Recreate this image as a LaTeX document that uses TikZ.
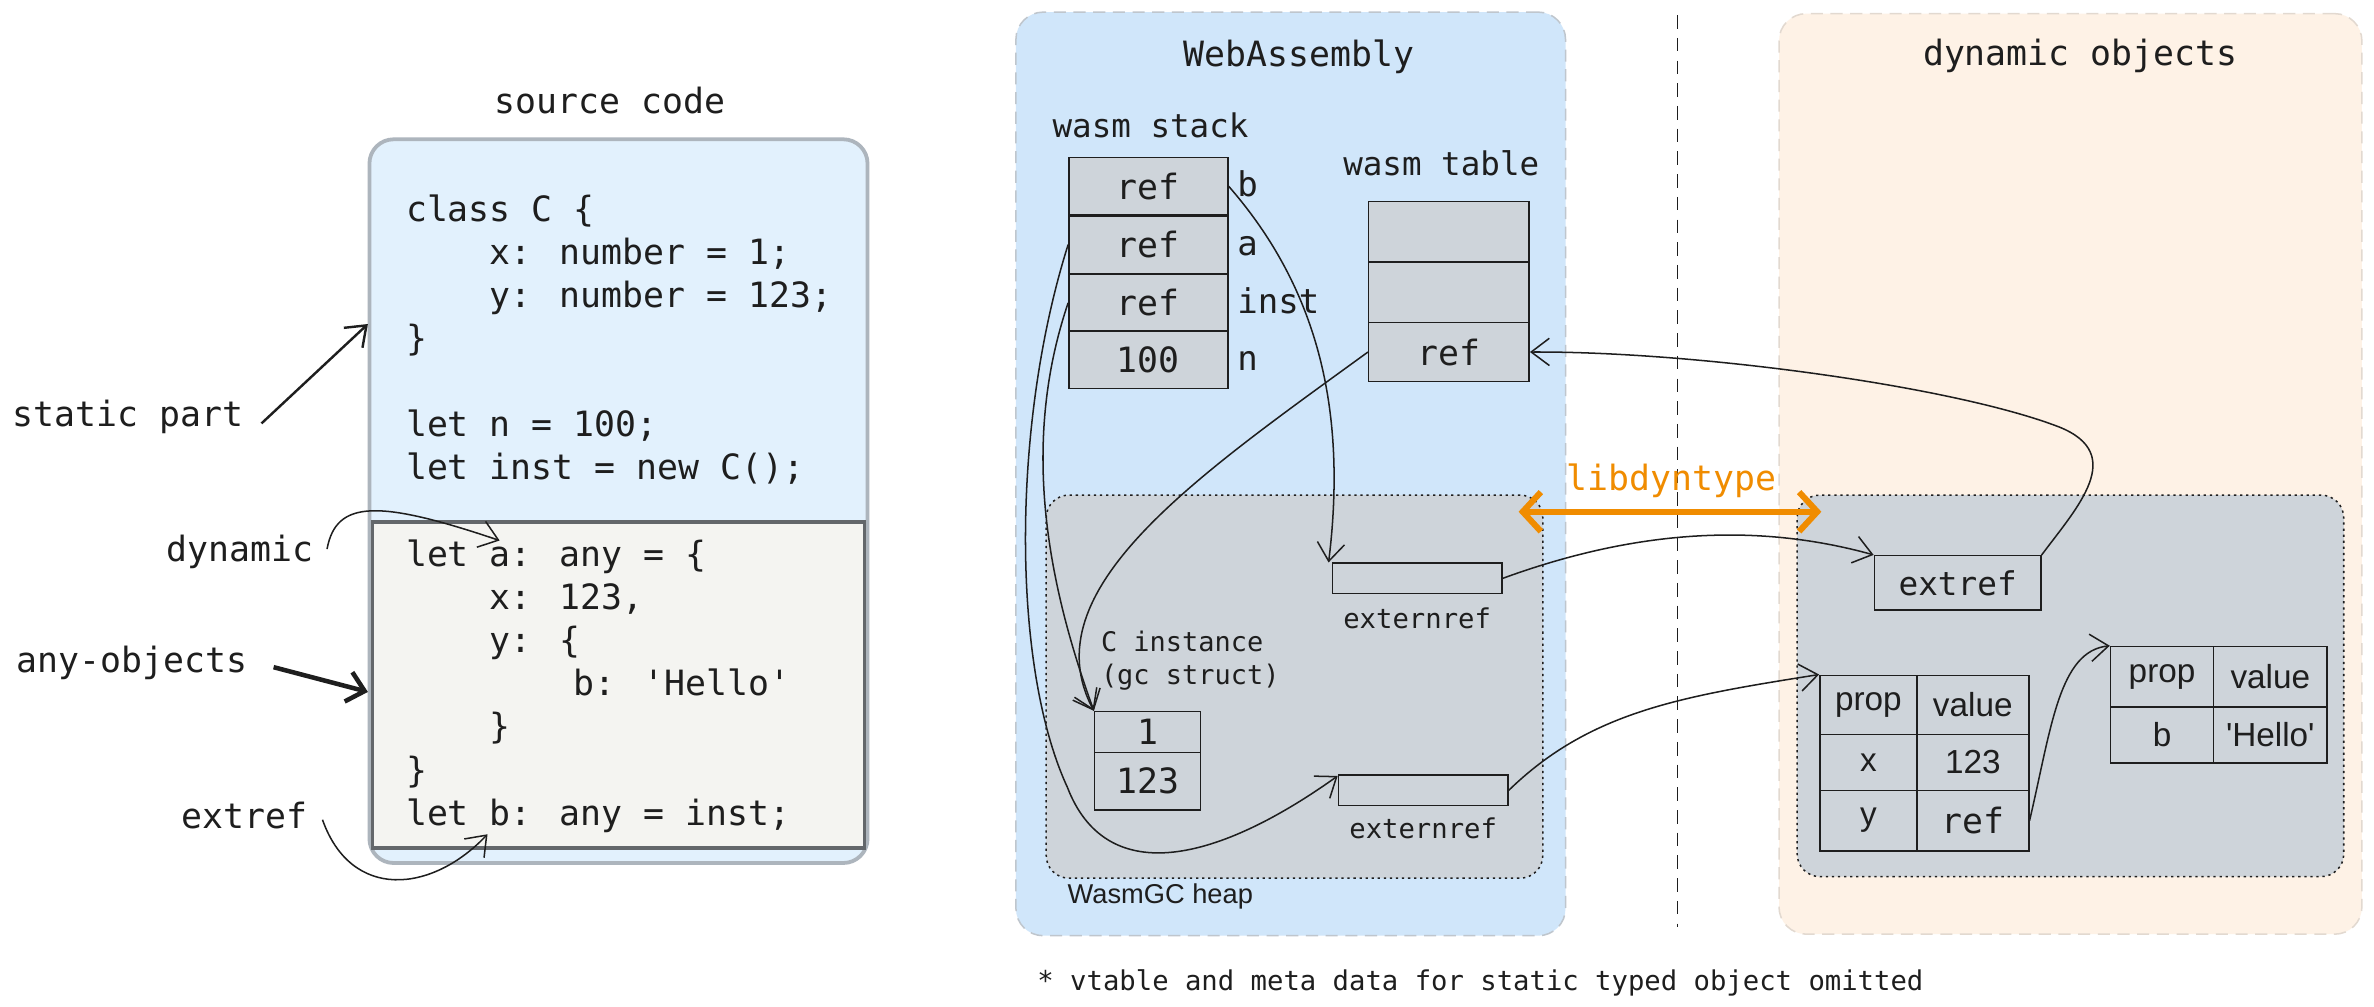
\documentclass[tikz,border=0pt]{standalone}
\usepackage{fontspec}
\usetikzlibrary{arrows.meta}
\newfontfamily\monof{DejaVu Sans Mono}
\newfontfamily\arialf{Liberation Sans}
\definecolor{ink}{HTML}{1E1E1E}
\definecolor{srcfill}{HTML}{E2F1FD}
\definecolor{srcline}{HTML}{ADB5BD}
\definecolor{dynfill}{HTML}{F4F4F1}
\definecolor{dynline}{HTML}{63676B}
\definecolor{wasmfill}{HTML}{D0E6FA}
\definecolor{wasmline}{HTML}{BFC6CD}
\definecolor{heapfill}{HTML}{CED4DA}
\definecolor{objfill}{HTML}{FEF2E6}
\definecolor{objline}{HTML}{E2D9D0}
\definecolor{orng}{HTML}{F08C00}
\tikzset{
  mono/.style={font={\monof\fontsize{#1}{#1}\selectfont}, text=ink, inner sep=0pt},
  mono/.default=23,
  sans/.style={font={\arialf\fontsize{#1}{#1}\selectfont}, text=ink, inner sep=0pt},
  sans/.default=22,
  region/.style={inner sep=0pt, anchor=center},
  code/.style={mono=23, anchor=base west},
  cellbox/.style={draw=ink, line width=1pt, fill=heapfill, inner sep=0pt, anchor=center},
  arr/.style={draw=ink, line width=1pt, -{Straight Barb[length=12pt,width=18pt]}},
  bigarr/.style={draw=ink, line width=1.6pt, -{Straight Barb[length=12pt,width=18pt]}},
  heavyarr/.style={draw=ink, line width=3pt, -{Straight Barb[length=11pt,width=20pt]}},
}
\begin{document}
\begin{tikzpicture}[x=1pt,y=-1pt]
\fill[white] (0,0) rectangle (1568,665);
\useasboundingbox (0,0) rectangle (1568,665);

% ---------- source code ----------
\node[mono, anchor=base] (srctitle) at (403,75) {source code};
\node[region, fill=srcfill, draw=srcline, line width=2.5pt, rounded corners=16pt,
      minimum width=329pt, minimum height=478pt] (src) at (408.5,331) {};
\node[region, fill=dynfill, draw=dynline, line width=2.5pt,
      minimum width=325pt, minimum height=215pt] (srcdyn) at (408.5,452.5) {};

\node[code] (c01) at (268,146) {class C \{};
\node[code] (c02) at (323.4,174.5) {x: number = 1;};
\node[code] (c03) at (323.4,203) {y: number = 123;};
\node[code] (c04) at (268,231.5) {\}};
\node[code] (c05) at (268,288.5) {let n = 100;};
\node[code] (c06) at (268,317) {let inst = new C();};
\node[code] (c07) at (268,374) {let a: any = \{};
\node[code] (c08) at (323.4,402.5) {x: 123,};
\node[code] (c09) at (323.4,431) {y: \{};
\node[code] (c10) at (378.8,459.5) {b: 'Hello'};
\node[code] (c11) at (323.4,488) {\}};
\node[code] (c12) at (268,516.5) {\}};
\node[code] (c13) at (268,545) {let b: any = inst;};

% left labels
\node[mono, anchor=base west] (lstatic) at (8,282) {static part};
\node[mono, anchor=base east] (ldyn) at (207,371) {dynamic};
\node[mono, anchor=base west] (lany) at (11,444) {any-objects};
\node[mono, anchor=base east] (lext) at (203,547) {extref};

\coordinate (tipstatic) at (243,214);
\coordinate (tipdyn) at (330,357);
\coordinate (tipany) at (243,457);
\coordinate (tipext) at (322,551);

\draw[bigarr] ([xshift=12pt,yshift=-4pt]lstatic.east) -- (tipstatic);
\draw[arr] ([xshift=9pt,yshift=2pt]ldyn.east) .. controls (222,330) and (250,330) .. (tipdyn);
\draw[heavyarr] ([xshift=17pt,yshift=-3pt]lany.east) -- (tipany);
\draw[arr] ([xshift=10pt,yshift=-3pt]lext.east) .. controls (232,595) and (285,590) .. (tipext);

% ---------- WebAssembly ----------
\node[region, fill=wasmfill, draw=wasmline, line width=1pt, dash pattern=on 8pt off 5pt,
      rounded corners=18pt, minimum width=363pt, minimum height=610pt] (wasm) at (852.5,313) {};
\node[mono, anchor=base] (wasmtitle) at (858,44) {WebAssembly};

\node[region, fill=heapfill, draw=ink, line width=1pt, dash pattern=on 1.5pt off 2.5pt,
      rounded corners=15pt, minimum width=328pt, minimum height=253pt] (heap) at (855,453.5) {};
\node[sans=18, anchor=base west] (heaplabel) at (705,597) {WasmGC heap};

\node[mono=21.5, anchor=base west] (stacktitle) at (695,91) {wasm stack};
\node[cellbox, mono=23, minimum width=105pt, minimum height=38pt] (s1) at (758.5,123) {ref};
\node[cellbox, mono=23, minimum width=105pt, minimum height=38pt] (s2) at (758.5,161.5) {ref};
\node[cellbox, mono=23, minimum width=105pt, minimum height=38pt] (s3) at (758.5,200) {ref};
\node[cellbox, mono=23, minimum width=105pt, minimum height=38pt] (s4) at (758.5,237.5) {100};
\node[mono=22.5, anchor=base west] (lb) at (817,130) {b};
\node[mono=22.5, anchor=base west] (la) at (817,168.5) {a};
\node[mono=22.5, anchor=base west] (linst) at (817,207) {inst};
\node[mono=22.5, anchor=base west] (ln) at (817,245) {n};

\node[mono=21.5, anchor=base west] (tabletitle) at (887,116) {wasm table};
\node[cellbox, minimum width=106pt, minimum height=40pt] (t1) at (957,153) {};
\node[cellbox, minimum width=106pt, minimum height=40pt] (t2) at (957,193) {};
\node[cellbox, mono=23, minimum width=106pt, minimum height=39pt] (t3) at (957,232.5) {ref};

\node[mono=17.8, anchor=base west] (cinst1) at (727,430) {C instance};
\node[mono=17.8, anchor=base west] (cinst2) at (727,452) {(gc struct)};
\node[cellbox, mono=23, minimum width=70pt, minimum height=27pt] (c1) at (758,483.5) {1};
\node[cellbox, mono=23, minimum width=70pt, minimum height=38pt] (c2) at (758,516) {123};

\node[cellbox, minimum width=112pt, minimum height=20pt] (ext1) at (936,382) {};
\node[mono=18, anchor=base] (ext1l) at (936,415) {externref};
\node[cellbox, minimum width=112pt, minimum height=20pt] (ext2) at (940,522) {};
\node[mono=18, anchor=base] (ext2l) at (940,554) {externref};

% separator
\coordinate (septop) at (1108,10);
\coordinate (sepbot) at (1108,612);
\draw[ink, line width=1pt, dash pattern=on 9pt off 6pt] (septop) -- (sepbot);

% ---------- dynamic objects ----------
\node[region, fill=objfill, draw=objline, line width=1pt, dash pattern=on 8pt off 5pt,
      rounded corners=18pt, minimum width=385pt, minimum height=608pt] (obj) at (1367.5,313) {};
\node[mono, anchor=base] (objtitle) at (1374,43) {dynamic objects};
\node[region, fill=heapfill, draw=ink, line width=1pt, dash pattern=on 1.5pt off 2.5pt,
      rounded corners=15pt, minimum width=361pt, minimum height=252pt] (objheap) at (1367.5,453) {};

\node[cellbox, mono=21.6, minimum width=110pt, minimum height=36pt] (dx) at (1293,385) {extref};

\node[cellbox, sans, minimum width=64pt, minimum height=39pt] (p11) at (1234,465.5) {prop};
\node[cellbox, sans, minimum width=74pt, minimum height=39pt] (p12) at (1303,465.5) {value};
\node[cellbox, sans, minimum width=64pt, minimum height=37pt] (p21) at (1234,503.5) {x};
\node[cellbox, sans, minimum width=74pt, minimum height=37pt] (p22) at (1303,503.5) {123};
\node[cellbox, sans, minimum width=64pt, minimum height=40pt] (p31) at (1234,542) {y};
\node[cellbox, mono=23, minimum width=74pt, minimum height=40pt] (v3) at (1303,542) {ref};

\node[cellbox, sans, minimum width=68pt, minimum height=40pt] (q11) at (1428,447) {prop};
\node[cellbox, sans, minimum width=75pt, minimum height=40pt] (q12) at (1499.5,447) {value};
\node[cellbox, sans, minimum width=68pt, minimum height=37pt] (q21) at (1428,485.5) {b};
\node[cellbox, sans, minimum width=75pt, minimum height=37pt] (q22) at (1499.5,485.5) {'Hello'};

% libdyntype
\node[mono, anchor=base, text=orng] (lib) at (1104,324) {libdyntype};
\coordinate (libl) at (1003,338);
\coordinate (libr) at (1203,338);
\draw[orng, line width=4pt, {Straight Barb[length=12pt,width=26pt]}-{Straight Barb[length=12pt,width=26pt]}] (libl) -- (libr);

% ---------- connectors ----------
\draw[arr] (s1.east) .. controls (870,190) and (890,270) .. ([xshift=-2pt]ext1.north west);
\draw[arr] (s2.west) .. controls (668,280) and (668,440) .. (705,520)
                     .. controls (730,585) and (800,572) .. ([yshift=-1pt]ext2.north west);
\draw[arr] (s3.west) .. controls (675,290) and (690,380) .. (c1.north west);
\draw[arr] (t3.west) .. controls (790,315) and (680,390) .. (c1.north west);
\draw[arr] (ext1.east) .. controls (1080,350) and (1160,345) .. (dx.north west);
\draw[arr] (dx.north east) .. controls (1372,335) and (1405,300) .. (1360,282)
                           .. controls (1290,255) and (1120,232) .. (t3.east);
\draw[arr] (ext2.east) .. controls (1050,470) and (1110,460) .. (p11.north west);
\draw[arr] (v3.east) .. controls (1355,480) and (1360,430) .. (q11.north west);

% note
\node[mono=18, anchor=base west] (note) at (685,654) {* vtable and meta data for static typed object omitted};
\end{tikzpicture}
\end{document}
